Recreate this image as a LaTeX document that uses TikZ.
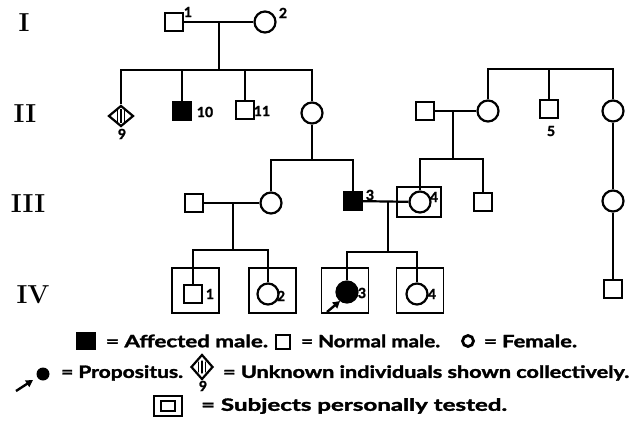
\documentclass[tikz,border=0pt]{standalone}
\usepackage{fontspec}
\usepackage{graphicx}
\newfontfamily\legfont[BoldFeatures={FakeBold=1.6}]{Lato}
\usetikzlibrary{shapes.geometric,arrows.meta}
\newcommand\fitw[2]{\resizebox{#1}{\height}{#2}}
\begin{document}
\begin{tikzpicture}[x=1pt,y=-1pt,line width=2.2pt,
  male/.style={draw,rectangle,minimum size=18pt,inner sep=0pt},
  fem/.style={draw,circle,minimum size=21pt,inner sep=0pt},
  aff/.style={fill=black},
  tbox/.style={draw,rectangle,minimum width=47pt,minimum height=45pt,inner sep=0pt,line width=1.9pt},
  num/.style={font=\legfont\bfseries\fontsize{14}{14}\selectfont,inner sep=0pt},
  gen/.style={font=\bfseries\fontsize{26}{26}\selectfont,inner sep=0pt},
  leg/.style={font=\legfont\bfseries\fontsize{17}{17}\selectfont,inner sep=0pt,anchor=west},
  unk/.style={draw,diamond,minimum width=25pt,minimum height=21pt,inner sep=0pt},
  arr/.style={-{Triangle[length=7pt,width=7.5pt]},line width=2.4pt}]
\useasboundingbox (0,0) rectangle (636,422);

% generation labels
\node[gen] (gI) at (24,23) {I};
\node[gen] (gII) at (25,114) {II};
\node[gen] (gIII) at (28,204) {III};
\node[gen] (gIV) at (33,295) {IV};

% Generation I
\node[male] (I1) at (174,22) {};
\node[fem] (I2) at (265,22) {};
\node[num] (nI1) at (188,12) {1};
\node[num] (nI2) at (283,13) {2};
\draw (I1) -- (I2);
\coordinate (m1) at (219,22);
\coordinate (s1) at (219,70);
\draw (m1) -- (s1);

% Generation II (left)
\node[unk] (II9) at (121,116) {};
\begin{scope}[line width=1.2pt]
  \clip (121,116) circle (7);
  \draw (117.5,100) -- (117.5,130);
  \draw (121,100) -- (121,130);
  \draw (124.5,100) -- (124.5,130);
\end{scope}
\node[num] (n9) at (122,134) {9};
\node[male,aff] (II10) at (182,111) {};
\node[num] (n10) at (205,112) {10};
\node[male] (II11) at (245,110) {};
\node[num] (n11) at (262,111) {11};
\node[fem] (II12) at (312,113) {};
\draw (II9.north) |- (II12.north |- s1) -- (II12.north);
\draw (II10.north) -- (II10.north |- s1);
\draw (II11.north) -- (II11.north |- s1);

% Generation II (right)
\coordinate (s2) at (549,69);
\node[male] (II13) at (425,111) {};
\node[fem] (II14) at (488,111) {};
\node[male] (II15) at (549,109) {};
\node[num] (n5) at (551,131) {5};
\node[fem] (II16) at (613,111) {};
\draw (II14.north) |- (II16.north |- s2) -- (II16.north);
\draw (II15.north) -- (II15.north |- s2);
\draw (II13) -- (II14);
\coordinate (m2) at (453,111);
\coordinate (s3) at (453,159);
\draw (m2) -- (s3);

% Generation III
\node[male] (III1) at (194,203) {};
\node[fem] (III2) at (271,203) {};
\draw (III1) -- (III2);
\coordinate (s4) at (312,160);
\draw (II12) -- (s4);
\node[male,aff] (III3) at (353,201) {};
\node[num] (n3a) at (370,195) {3};
\draw (III2.north) |- (III3.north |- s4) -- (III3.north);
\node[tbox,minimum width=44pt,minimum height=30pt] (B34) at (419,202) {};
\node[fem] (III4) at (420,202) {};
\node[num] (n4a) at (434,197) {4};
\node[male] (III5) at (483,202) {};
\draw (III4.north) |- (III5.north |- s3) -- (III5.north);
\draw (III3) -- (III4);
\coordinate (m3) at (388,202);
\coordinate (s5) at (388,252);
\draw (m3) -- (s5);
\coordinate (m4) at (233,203);
\coordinate (s6) at (233,250);
\draw (m4) -- (s6);
\node[fem] (III6) at (613,201) {};
\draw (II16) -- (III6);

% Generation IV
\node[male] (IV5) at (613,289) {};
\draw (III6) -- (IV5);
\node[tbox] (B1) at (195.5,290.5) {};
\node[tbox] (B2) at (272.5,290.5) {};
\node[tbox] (B3) at (345,290.5) {};
\node[tbox] (B4) at (420,290.5) {};
\node[male] (IV1) at (193,294) {};
\node[num] (nIV1) at (210,294) {1};
\node[fem] (IV2) at (268,294) {};
\node[num] (nIV2) at (281,296) {2};
\node[fem,aff] (IV3) at (347,292) {};
\node[num] (nIV3) at (362,293) {3};
\node[fem] (IV4) at (417,294) {};
\node[num] (nIV4) at (432,294) {4};
\draw (IV1.north) |- (IV2.north |- s6) -- (IV2.north);
\draw (IV3.north) |- (IV4.north |- s5) -- (IV4.north);
\coordinate (ar1) at (327,312);
\coordinate (ar2) at (340,301);
\draw[arr] (ar1) -- (ar2);

% Legend line 1
\node[male,aff,minimum width=18pt,minimum height=15pt] (L1) at (86,341) {};
\node[leg] (T1) at (105,341) {\fitw{162pt}{= Affected male.}};
\node[male,minimum size=14pt,line width=2.2pt] (L2) at (283,342) {};
\node[leg] (T2) at (300,341) {\fitw{139pt}{= Normal male.}};
\node[draw,circle,minimum size=11pt,inner sep=0pt,line width=2.8pt] (L3) at (468,341) {};
\node[leg] (T3) at (483,341) {\fitw{93pt}{= Female.}};

% Legend line 2
\node[fill,circle,minimum size=13pt,inner sep=0pt] (L4) at (43,374) {};
\coordinate (la) at (16,391);
\coordinate (lb) at (33,380);
\draw[arr] (la) -- (lb);
\node[leg] (T4) at (60,373) {\fitw{122pt}{= Propositus.}};
\node[unk,minimum width=22pt,minimum height=25pt] (L5) at (202,367) {};
\begin{scope}[line width=1.2pt]
  \clip (202,367) circle (6.5);
  \draw (198.5,350) -- (198.5,385);
  \draw (202,350) -- (202,385);
  \draw (205.5,350) -- (205.5,385);
\end{scope}
\node[num] (n9b) at (203,386) {9};
\node[leg] (T5) at (222,373) {\fitw{406pt}{= Unknown individuals shown collectively.}};

% Legend line 3
\node[draw,minimum width=28pt,minimum height=20pt,inner sep=0pt,line width=2.4pt] (L6) at (168,406) {};
\node[draw,minimum width=14pt,minimum height=10pt,inner sep=0pt,line width=2.4pt] (L7) at (168,406) {};
\node[leg] (T6) at (200,406) {\fitw{306pt}{= Subjects personally tested.}};
\end{tikzpicture}
\end{document}
